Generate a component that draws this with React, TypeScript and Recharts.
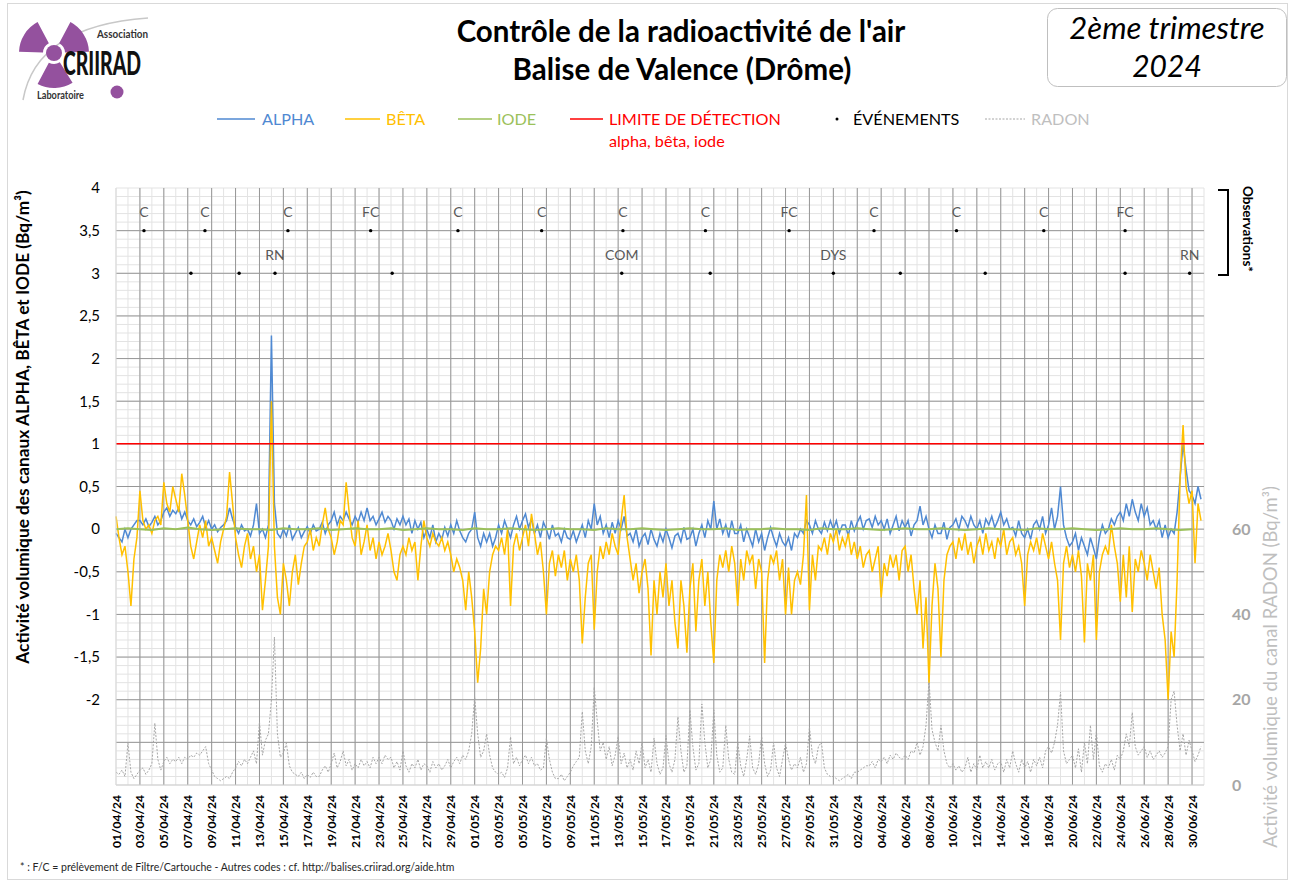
import {
  CartesianGrid,
  ComposedChart,
  LabelList,
  Line,
  ReferenceLine,
  Scatter,
  XAxis,
  YAxis,
} from 'recharts'

// x axis: days since 01/04/24, labels every 2 days
const TICK_DAYS = [
  0, 2, 4, 6, 8, 10, 12, 14, 16, 18, 20, 22, 24, 26, 28, 30, 32, 34, 36, 38, 40, 42, 44,
  46, 48, 50, 52, 54, 56, 58, 60, 62, 64, 66, 68, 70, 72, 74, 76, 78, 80, 82, 84, 86, 88, 90,
]
const TICK_LABELS = [
  '01/04/24', '03/04/24', '05/04/24', '07/04/24', '09/04/24', '11/04/24', '13/04/24', '15/04/24',
  '17/04/24', '19/04/24', '21/04/24', '23/04/24', '25/04/24', '27/04/24', '29/04/24', '01/05/24',
  '03/05/24', '05/05/24', '07/05/24', '09/05/24', '11/05/24', '13/05/24', '15/05/24', '17/05/24',
  '19/05/24', '21/05/24', '23/05/24', '25/05/24', '27/05/24', '29/05/24', '31/05/24', '02/06/24',
  '04/06/24', '06/06/24', '08/06/24', '10/06/24', '12/06/24', '14/06/24', '16/06/24', '18/06/24',
  '20/06/24', '22/06/24', '24/06/24', '26/06/24', '28/06/24', '30/06/24',
]
const LEFT_TICKS = [-2, -1.5, -1, -0.5, 0, 0.5, 1, 1.5, 2, 2.5, 3, 3.5, 4]
const RADON_TICKS = [0, 20, 40, 60]
const DETECTION_LIMIT = 1

// 4 readings per day (00h, 06h, 12h, 18h), Bq/m3
const ALPHA = [
  -0.05, -0.1, -0.15, 0.0, -0.1, 0.0, 0.05, 0.1,
  0.1, 0.05, 0.12, 0.03, 0.08, 0.15, 0.05, 0.1,
  0.2, 0.25, 0.15, 0.22, 0.18, 0.25, 0.12, 0.2,
  0.1, 0.05, 0.12, 0.03, 0.08, 0.15, 0.02, 0.1,
  0.0, 0.05, -0.03, 0.02, 0.05, 0.1, 0.25, 0.12,
  0.02, -0.05, 0.05, -0.02, 0.0, -0.08, 0.05, 0.3,
  -0.05, 0.0, -0.1, 0.05, 2.27, 0.3, -0.05, -0.1,
  0.0, -0.08, 0.05, -0.12, -0.05, 0.02, -0.1, -0.03,
  0.03, -0.05, 0.05, -0.02, 0.0, 0.08, -0.05, 0.05,
  0.1, 0.2, 0.05, 0.15, 0.1, 0.2, 0.12, 0.05,
  0.15, 0.08, 0.2, 0.1, 0.25, 0.1, 0.15, 0.05,
  0.12, 0.2, 0.08, 0.15, 0.1, 0.0, 0.12, 0.05,
  0.15, 0.05, 0.12, -0.05, 0.1, 0.0, 0.08, -0.1,
  0.0, -0.1, 0.05, -0.15, -0.05, -0.12, 0.02, -0.08,
  0.05, -0.05, 0.1, -0.02, -0.1, -0.15, -0.05, 0.0,
  0.2, -0.1, -0.2, -0.05, -0.15, -0.05, -0.2, -0.1,
  0.05, -0.05, 0.1, 0.0, -0.1, 0.05, 0.15, 0.0,
  0.1, 0.18, 0.02, 0.12, -0.05, 0.05, -0.1, 0.08,
  0.0, -0.12, 0.05, -0.08, -0.05, -0.15, 0.0, -0.1,
  -0.12, -0.02, -0.15, -0.05, 0.05, -0.1, 0.1, 0.0,
  0.3, 0.05, 0.15, -0.05, 0.05, -0.1, 0.08, -0.05,
  0.1, 0.0, 0.15, -0.08, -0.05, -0.15, 0.0, -0.2,
  -0.1, -0.05, -0.18, 0.0, -0.12, -0.2, -0.05, -0.15,
  0.0, -0.1, -0.22, -0.08, -0.05, -0.15, 0.02, -0.12,
  -0.1, 0.0, -0.2, -0.05, 0.05, -0.1, 0.1, 0.0,
  0.33, 0.0, 0.12, -0.05, 0.05, -0.1, 0.1, -0.05,
  -0.05, 0.05, -0.15, 0.0, -0.1, -0.2, 0.0, -0.15,
  -0.05, -0.25, -0.1, 0.02, -0.1, -0.2, -0.05, -0.15,
  -0.2, -0.1, -0.25, -0.05, -0.1, 0.0, -0.05, 0.1,
  0.05, -0.05, 0.1, 0.0, -0.05, 0.08, -0.02, 0.1,
  0.0, 0.1, -0.05, 0.05, 0.05, -0.08, 0.1, -0.02,
  0.08, 0.15, 0.0, 0.1, 0.12, 0.02, 0.15, 0.05,
  0.1, 0.0, 0.12, -0.05, 0.05, 0.15, -0.02, 0.1,
  0.02, 0.1, -0.08, 0.05, 0.1, 0.27, 0.05, 0.15,
  0.0, -0.1, 0.05, -0.05, -0.05, 0.08, -0.12, 0.02,
  0.05, 0.12, 0.0, 0.15, 0.1, 0.02, 0.15, 0.05,
  0.0, 0.1, -0.05, 0.12, 0.05, 0.15, 0.02, 0.1,
  0.2, 0.05, 0.12, 0.0, 0.02, -0.08, 0.1, -0.05,
  -0.1, 0.0, -0.12, 0.05, 0.1, 0.0, 0.15, -0.05,
  0.05, 0.25, 0.0, 0.15, 0.5, 0.05, -0.1, -0.2,
  -0.15, -0.05, -0.25, -0.1, -0.2, -0.3, -0.1, -0.22,
  -0.35, -0.1, 0.05, -0.05, 0.0, 0.12, 0.05, 0.15,
  0.2, 0.1, 0.3, 0.15, 0.35, 0.2, 0.1, 0.3,
  0.15, 0.25, 0.05, 0.1, 0.0, 0.1, -0.1, 0.05,
  -0.1, 0.0, -0.05, 0.2, 0.6, 1.0, 0.7, 0.45,
  0.4, 0.3, 0.5, 0.35,
]

const BETA = [
  0.15, -0.1, -0.3, -0.2, -0.5, -0.9, -0.35, -0.1,
  0.45, 0.1, 0.0, 0.05, -0.05, 0.1, 0.15, 0.05,
  0.55, 0.3, 0.2, 0.5, 0.35, 0.2, 0.65, 0.4,
  0.1, -0.2, -0.35, -0.15, 0.05, -0.1, 0.1, -0.2,
  -0.1, -0.25, -0.4, -0.15, 0.0, 0.15, 0.67, 0.3,
  -0.1, -0.3, -0.45, -0.2, -0.05, -0.35, -0.2, -0.5,
  -0.3, -0.95, -0.6, -0.2, 1.5, -0.2, -0.8, -1.0,
  -0.4, -0.6, -0.9, -0.5, -0.3, -0.65, -0.4, -0.2,
  -0.15, 0.0, -0.25, -0.1, -0.2, 0.05, 0.25, 0.0,
  -0.1, -0.3, -0.15, 0.1, 0.05, 0.55, 0.2, -0.1,
  -0.2, 0.1, -0.3, -0.15, 0.05, -0.25, -0.1, -0.35,
  -0.15, -0.3, -0.2, -0.05, -0.25, -0.5, -0.6, -0.3,
  -0.2, -0.3, -0.1, -0.25, -0.15, -0.6, -0.2, 0.1,
  -0.1, -0.2, -0.05, -0.15, -0.2, -0.1, -0.25, -0.15,
  -0.3, -0.5, -0.35, -0.45, -0.6, -0.95, -0.5, -0.8,
  -1.2, -1.8, -1.4, -0.7, -1.0, -0.5, -0.3, -0.2,
  -0.25, -0.1, -0.3, 0.0, -0.9, -0.2, -0.05, -0.25,
  -0.1, 0.05, -0.2, 0.18, -0.05, -0.3, -0.15, -0.5,
  -1.0, -0.4, -0.25, -0.55, -0.3, -0.45, -0.25, -0.6,
  -0.35, -0.5, -0.3, -0.6, -1.34, -0.8, -0.4, -0.3,
  -1.18, -0.5, -0.2, -0.35, -0.15, -0.3, -0.05, -0.2,
  -0.3, 0.1, 0.4, -0.1, -0.35, -0.6, -0.4, -0.75,
  -0.5, -0.35, -0.7, -1.48, -0.6, -1.0, -0.5, -0.8,
  -0.4, -0.9, -0.6, -1.1, -1.4, -0.6, -0.9, -1.45,
  -0.7, -0.4, -1.2, -0.6, -0.35, -0.9, -0.5, -1.1,
  -1.57, -0.6, -0.3, -0.45, -0.25, -0.5, -0.2, -0.4,
  -0.9, -0.35, -0.6, -0.25, -0.4, -0.3, -0.7, -0.35,
  -0.5, -1.57, -0.6, -0.3, -0.4, -0.25, -0.6, -0.35,
  -1.0, -0.45, -1.0, -0.6, -0.5, -0.65, -0.3, 0.4,
  -0.95, -0.3, -0.6, -0.2, -0.25, -0.1, -0.3, -0.05,
  -0.15, 0.0, -0.25, -0.1, -0.2, -0.05, -0.3, -0.15,
  -0.35, -0.2, -0.45, -0.3, -0.25, -0.5, -0.35, -0.2,
  -0.8, -0.4, -0.55, -0.3, -0.45, -0.3, -0.6, -0.25,
  -0.2, -0.5, -0.3, -0.7, -1.0, -0.6, -1.4, -0.8,
  -1.8, -0.9, -0.4, -0.7, -1.5, -0.6, -0.3, -0.2,
  -0.15, -0.35, -0.1, -0.25, -0.05, -0.3, -0.15, -0.4,
  -0.2, -0.1, -0.3, -0.05, -0.25, -0.15, -0.35, -0.1,
  -0.2, 0.0, -0.3, -0.15, -0.1, -0.3, -0.2, -0.4,
  -0.9, -0.3, -0.15, -0.25, -0.1, -0.3, -0.05, -0.2,
  -0.35, -0.15, -0.4, -0.6, -1.3, -0.4, -0.2, -0.45,
  -0.3, -0.5, -0.25, -0.55, -1.33, -0.4, -0.6, -0.3,
  -1.3, -0.5, -0.3, -0.2, -0.3, 0.05, -0.2, -0.4,
  -0.85, -0.3, -0.8, -0.2, -0.97, -0.35, -0.5, -0.25,
  -0.4, -0.6, -0.3, -0.5, -0.7, -0.45, -1.0, -1.3,
  -2.0, -1.2, -1.5, -0.6, 0.6, 1.22, 0.5, 0.3,
  0.45, -0.4, 0.3, 0.1,
]

const RADON = [
  3, 2.5, 3.5, 2, 9.8, 3, 1.5, 2.5,
  3.5, 4, 2.5, 3.5, 5, 14.5, 6, 3.5,
  5.5, 6.5, 5, 6, 5.5, 6.5, 5, 6.5,
  6, 7, 6.5, 7.5, 7, 8, 9, 5,
  3.5, 2, 1.5, 1, 1.5, 2, 1.5, 3,
  4, 5.5, 4.5, 6, 5, 6.5, 8, 5,
  14.8, 7, 10.5, 12, 20, 34.7, 12, 6.5,
  7.5, 9.8, 4.5, 3, 2.5, 2, 3, 1.5,
  2.5, 1.8, 3, 2, 2, 3.5, 4.5, 3,
  5, 7.5, 4, 5.5, 8, 4.5, 6, 3.5,
  5, 4, 6, 4.5, 5.5, 4, 6.5, 5,
  6.5, 5, 7, 6, 6.5, 4, 5.5, 3.5,
  8, 4.5, 3, 5, 4, 6, 3.5, 5,
  4.5, 3, 5.5, 4, 5, 3.5, 4.5, 6,
  4, 5.5, 6.5, 5, 7, 6, 8, 12,
  20.7, 12, 6.5, 8, 12, 7, 4, 3,
  2.5, 3, 1.8, 4, 11.3, 5, 6.5, 4.5,
  6, 7, 5, 6.5, 4.5, 5, 3.5, 4,
  11, 6, 3, 1.5, 1.5, 2.5, 1, 2,
  3, 4.5, 5.5, 6.5, 17.2, 8, 5, 9,
  23, 15, 8, 10, 6, 9, 4.5, 7,
  11.3, 5, 7.5, 4, 6, 3.5, 8, 5,
  10, 4, 6, 3, 11, 5, 2.5, 4,
  11.6, 5, 3, 6, 16, 8, 3, 4.5,
  17.6, 9, 3.5, 5, 19, 10, 4, 6,
  17.6, 7, 3, 4, 14, 6, 3, 2.5,
  10, 4.5, 2, 6, 11.5, 4, 2.5, 5,
  11.5, 5, 2, 3.5, 10, 4, 2, 6,
  9.8, 6, 3.5, 5, 4, 6.5, 3, 5,
  13.6, 7, 5, 9, 10, 4, 2.5, 2,
  2, 1.5, 1, 1.5, 2, 2.5, 1.5, 3,
  3, 3.5, 4, 4.5, 4.5, 5.5, 4, 6,
  5.5, 6.5, 5, 7, 6, 7.5, 6.5, 6,
  7, 6, 8, 7.5, 10, 7, 9, 14,
  24.6, 13, 10, 8, 14, 8, 5, 4,
  5, 3.5, 4.5, 3, 4, 6.5, 3, 5,
  3.5, 7, 4, 5.5, 4, 6, 3.5, 5,
  5.5, 3, 6, 4, 8, 5, 3, 6,
  4, 5.5, 3, 6, 4.5, 6.5, 4, 8,
  9, 7.5, 10, 14, 21.8, 8, 5, 6,
  7, 4, 8.5, 3, 10, 5, 14, 6,
  12.5, 4.5, 3, 5, 4, 6, 3.5, 7,
  6, 8, 12, 9, 17, 9, 7, 8,
  9, 6.5, 8, 6, 7, 8, 6.5, 7.5,
  9, 20, 22, 14, 8, 12, 7, 10.5,
  8, 5.5, 7, 9,
]

// one reading per day
const IODE = [
  0, 0.01, 0, -0.01, 0.01, 0, 0.02, 0, -0.01, 0, 0.01, 0, 0, -0.01, 0.01, 0, 0, 0.01, -0.01, 0,
  0.01, 0, 0, 0.01, -0.01, 0, 0.01, 0, 0, -0.01, 0.01, 0, 0, 0.01, 0, -0.01, 0, 0.01, 0, 0,
  -0.01, 0.01, 0, 0, 0.01, 0, -0.01, 0, 0.01, 0, 0, 0.01, -0.01, 0, 0, 0.01, 0, 0, -0.01, 0.01,
  0, 0, 0.01, 0, -0.01, 0, 0.01, 0, 0, 0.01, 0, -0.01, 0, 0.01, 0, 0, -0.01, 0.01, 0, 0,
  0.01, 0, -0.01, 0, 0.01, 0, 0, 0.01, 0, -0.01, 0,
]

// events (day, level, code)
const EVENT_DAYS = [
  2.34, 7.44, 14.38, 21.3, 28.6, 35.6, 42.4, 49.3, 56.3, 63.4, 70.3, 77.6, 84.4,
  6.27, 10.3, 13.3, 23.1, 42.3, 49.7, 60.0, 65.6, 72.7, 84.4, 89.8,
]
const EVENT_LEVELS = [
  3.5, 3.5, 3.5, 3.5, 3.5, 3.5, 3.5, 3.5, 3.5, 3.5, 3.5, 3.5, 3.5,
  3, 3, 3, 3, 3, 3, 3, 3, 3, 3, 3,
]
const EVENT_CODES = [
  'C', 'C', 'C', 'FC', 'C', 'C', 'C', 'C', 'FC', 'C', 'C', 'C', 'FC',
  '', '', 'RN', '', 'COM', '', 'DYS', '', '', '', 'RN',
]

const ROWS = BETA.map((b, i) => ({
  t: i / 4,
  alpha: ALPHA[i],
  beta: b,
  radon: RADON[i],
  iode: i % 4 === 0 ? IODE[i / 4] : null,
}))

const EVENTS = EVENT_DAYS.map((d, i) => ({ t: d, level: EVENT_LEVELS[i], code: EVENT_CODES[i] }))

const MINOR_Y = Array.from({ length: 71 }, (_, i) => Math.round((-3 + i * 0.1) * 10) / 10)
const MAJOR_Y = Array.from({ length: 13 }, (_, i) => -2.5 + i * 0.5)
const MINOR_X = Array.from({ length: 92 }, (_, i) => i)
const MAJOR_X = TICK_DAYS.slice(1)

const FONT = 'Lato, "Open Sans", sans-serif'

function project(axis: any, v: number) {
  const s = axis?.scale
  if (typeof s === 'function') return s(v)
  if (s && typeof s.map === 'function') return s.map(v)
  return undefined
}

const gridAt = (values: number[], key: 'xAxis' | 'yAxis') => (props: any) =>
  values.map((v) => project(props[key], v)).filter((p) => typeof p === 'number' && !Number.isNaN(p))

function DateTick({ x, y, payload }: any) {
  const label = TICK_LABELS[TICK_DAYS.indexOf(payload.value)] ?? ''
  const ty = y + 2
  return (
    <text
      x={x}
      y={ty}
      transform={`rotate(-90, ${x}, ${ty})`}
      textAnchor="end"
      dominantBaseline="central"
      fontSize={12}
      fontWeight={700}
      fill="#000"
      fontFamily={FONT}
    >
      {label}
    </text>
  )
}

function EventDot({ cx, cy }: any) {
  return <circle cx={cx} cy={cy} r={1.7} fill="#000" />
}

function Trefoil() {
  const cx = 36
  const cy = 39
  const r1 = 11
  const r2 = 35
  const blade = (a: number) => {
    const rad = (d: number) => (d * Math.PI) / 180
    const p = (r: number, d: number) => `${cx + r * Math.cos(rad(d))} ${cy + r * Math.sin(rad(d))}`
    return `M ${p(r1, a - 30)} L ${p(r2, a - 30)} A ${r2} ${r2} 0 0 1 ${p(r2, a + 30)} L ${p(r1, a + 30)} A ${r1} ${r1} 0 0 0 ${p(r1, a - 30)} Z`
  }
  return (
    <g transform="translate(18,14)">
      <path d="M 5 86 Q 18 12 130 4" fill="none" stroke="#c8c8c8" strokeWidth={1.5} />
      {[-148, -32, 88].map((a) => (
        <path key={a} d={blade(a)} fill="#94519e" />
      ))}
      <circle cx={cx} cy={cy} r={8} fill="#94519e" />
      <circle cx={99} cy={78} r={6.5} fill="#94519e" />
      <text x={79} y={24} fontSize={12} fontWeight={700} fill="#333" textLength={51} lengthAdjust="spacingAndGlyphs" fontFamily={FONT}>
        Association
      </text>
      <text x={45} y={61} fontSize={32} fontWeight={900} fill="#111" textLength={78} lengthAdjust="spacingAndGlyphs" fontFamily={FONT}>
        CRIIRAD
      </text>
      <text x={19} y={85} fontSize={12} fontWeight={700} fill="#333" textLength={47} lengthAdjust="spacingAndGlyphs" fontFamily={FONT}>
        Laboratoire
      </text>
    </g>
  )
}

function Decorations() {
  return (
    <svg
      width={1293}
      height={883}
      style={{ position: 'absolute', left: 0, top: 0, pointerEvents: 'none' }}
      fontFamily={FONT}
    >
      <rect x={7.5} y={3.5} width={1280} height={876} fill="none" stroke="#d9d9d9" />
      <Trefoil />

      <text x={681} y={42} textAnchor="middle" fontSize={29.5} fontWeight={700} fill="#000">
        Contrôle de la radioactivité de l'air
      </text>
      <text x={682} y={80} textAnchor="middle" fontSize={29.5} fontWeight={700} fill="#000">
        Balise de Valence (Drôme)
      </text>

      <rect x={1047.5} y={8.5} width={239} height={78} rx={10} fill="#fff" stroke="#bfbfbf" />
      <text x={1167} y={39} textAnchor="middle" fontSize={31} fontStyle="italic" fill="#000">
        2ème trimestre
      </text>
      <text x={1167} y={77} textAnchor="middle" fontSize={30} fontStyle="italic" fill="#000">
        2024
      </text>

      <g fontSize={16.2}>
        <line x1={217} x2={255} y1={119} y2={119} stroke="#4F89D2" strokeWidth={1.5} />
        <text x={262} y={125} fill="#4F89D2">ALPHA</text>
        <line x1={345} x2={380} y1={119} y2={119} stroke="#FFC000" strokeWidth={1.5} />
        <text x={386} y={125} fill="#FFC000">BÊTA</text>
        <line x1={458} x2={492} y1={119} y2={119} stroke="#9BC15A" strokeWidth={1.5} />
        <text x={497} y={125} fill="#9BC15A">IODE</text>
        <line x1={570} x2={603} y1={119} y2={119} stroke="#ff0000" strokeWidth={1.5} />
        <text x={609} y={125} fill="#ff0000">LIMITE DE DÉTECTION</text>
        <text x={609} y={147} fill="#ff0000">alpha, bêta, iode</text>
        <circle cx={837} cy={119} r={1.5} fill="#000" />
        <text x={853} y={125} fill="#000">ÉVÉNEMENTS</text>
        <line x1={985} x2={1025} y1={119} y2={119} stroke="#a6a6a6" strokeDasharray="2 1.5" />
        <text x={1031} y={125} fill="#bfbfbf">RADON</text>
      </g>

      <text transform="rotate(-90)" x={-427} y={29} textAnchor="middle" fontSize={17.3} fontWeight={700} fill="#000">
        Activité volumique des canaux ALPHA, BÊTA et IODE (Bq/m³)
      </text>
      <text transform="rotate(-90)" x={-667} y={1277} textAnchor="middle" fontSize={18.5} fill="#bfbfbf">
        Activité volumique du canal RADON (Bq/m³)
      </text>

      <path d="M 1218 190 H 1228 V 275 H 1218" fill="none" stroke="#000" strokeWidth={2} />
      <text transform="rotate(90)" x={229} y={-1243} textAnchor="middle" fontSize={13.5} fontWeight={700} fill="#000">
        Observations*
      </text>

      <text x={20} y={871} fontSize={10.5} fill="#262626">
        * : F/C = prélèvement de Filtre/Cartouche  - Autres codes : cf. http://balises.criirad.org/aide.htm
      </text>
    </svg>
  )
}

export default function App() {
  return (
    <div
      style={{
        position: 'absolute',
        left: 0,
        top: 0,
        width: 1293,
        height: 883,
        background: '#fff',
        fontFamily: FONT,
      }}
    >
      <ComposedChart
        width={1293}
        height={883}
        data={ROWS}
        margin={{ top: 188, right: 29, left: 0, bottom: 38 }}
      >
        <CartesianGrid
          stroke="#e3e3e3"
          horizontalCoordinatesGenerator={gridAt(MINOR_Y, 'yAxis')}
          verticalCoordinatesGenerator={gridAt(MINOR_X, 'xAxis')}
        />
        <CartesianGrid
          stroke="#979797"
          horizontalCoordinatesGenerator={gridAt(MAJOR_Y, 'yAxis')}
          verticalCoordinatesGenerator={gridAt(MAJOR_X, 'xAxis')}
        />
        <XAxis
          dataKey="t"
          type="number"
          domain={[0, 91]}
          ticks={TICK_DAYS}
          interval={0}
          height={60}
          tick={<DateTick />}
          tickLine={false}
          axisLine={{ stroke: '#cfcfcf' }}
        />
        <YAxis
          type="number"
          domain={[-3, 4]}
          ticks={LEFT_TICKS}
          interval={0}
          width={116}
          tickLine={false}
          axisLine={{ stroke: '#d9d9d9' }}
          tickMargin={10}
          tick={{ fill: '#000', fontSize: 15, fontFamily: FONT }}
          tickFormatter={(v) => String(v).replace('.', ',')}
        />
        <YAxis
          yAxisId="radon"
          orientation="right"
          type="number"
          domain={[0, 140]}
          ticks={RADON_TICKS}
          interval={0}
          width={60}
          tickLine={false}
          axisLine={false}
          tickMargin={22}
          tick={{ fill: '#a6a6a6', fontSize: 16, fontWeight: 700, fontFamily: FONT }}
        />
        <Line
          yAxisId="radon"
          dataKey="radon"
          type="linear"
          stroke="#a6a6a6"
          strokeWidth={1}
          strokeDasharray="2 1.5"
          dot={false}
          isAnimationActive={false}
        />
        <Line dataKey="alpha" type="linear" stroke="#4F89D2" strokeWidth={1.5} dot={false} isAnimationActive={false} />
        <Line dataKey="beta" type="linear" stroke="#FFC000" strokeWidth={1.5} dot={false} isAnimationActive={false} />
        <Line
          dataKey="iode"
          type="linear"
          stroke="#9BC15A"
          strokeWidth={2}
          dot={false}
          connectNulls
          isAnimationActive={false}
        />
        <ReferenceLine y={DETECTION_LIMIT} stroke="#ff0000" strokeWidth={1.5} />
        <Scatter data={EVENTS} dataKey="level" shape={<EventDot />} isAnimationActive={false}>
          <LabelList dataKey="code" position="top" offset={9} fill="#595959" fontSize={14} fontFamily={FONT} />
        </Scatter>
      </ComposedChart>
      <Decorations />
    </div>
  )
}
